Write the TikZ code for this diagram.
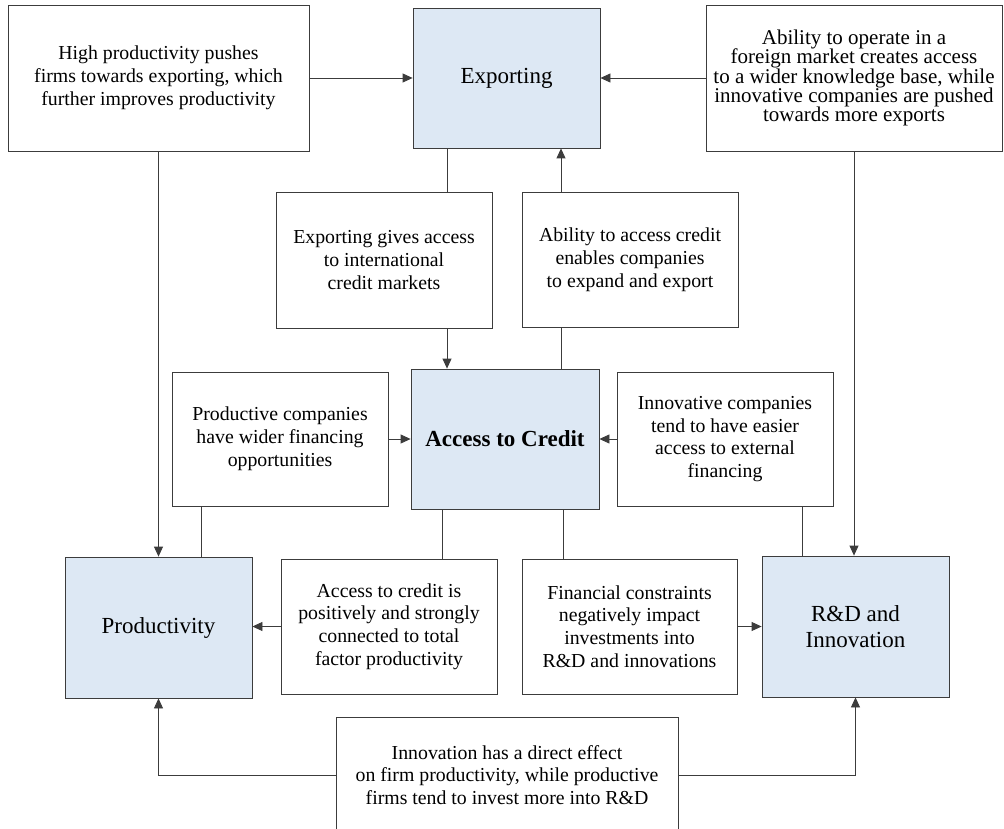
\documentclass[tikz,border=0pt]{standalone}
\usepackage{fontspec}
\setmainfont{Liberation Serif}
\usetikzlibrary{arrows.meta}
\definecolor{keyfill}{RGB}{221,232,244}
\definecolor{edge}{RGB}{60,60,60}
\tikzset{
  textbox/.style={draw=edge, line width=0.8pt, fill=white, inner sep=0pt, align=center,
    font=\fontsize{19.8}{22.8}\selectfont},
  keybox/.style={draw=edge, line width=0.8pt, fill=keyfill, inner sep=0pt, align=center,
    font=\fontsize{23}{25.7}\selectfont},
  link/.style={draw=edge, line width=0.8pt},
  arrowlink/.style={link, -{Triangle[length=10pt,width=9pt]}}
}
\begin{document}
\begin{tikzpicture}[x=1pt, y=-1pt]
\useasboundingbox (0,0) rectangle (1004,829);
\clip (0,0) rectangle (1004,829);

% top row
\node[textbox, minimum width=301pt, minimum height=146pt] (hp) at (158.5,78)
  {High productivity pushes\\firms towards exporting, which\\further improves productivity};
\node[keybox, minimum width=187pt, minimum height=140pt] (exp) at (506.5,78) {Exporting};
\node[textbox, minimum width=296pt, minimum height=146pt, font=\fontsize{21}{19.4}\selectfont] (ab) at (854,78)
  {Ability to operate in a\\foreign market creates access\\to a wider knowledge base, while\\innovative companies are pushed\\towards more exports};

% exporting <-> credit
\node[textbox, minimum width=216pt, minimum height=136pt] (eg) at (384,260)
  {Exporting gives access\\to international\\credit markets};
\node[textbox, minimum width=216pt, minimum height=135pt] (ac) at (630,259.5)
  {Ability to access credit\\enables companies\\to expand and export};

% middle row
\node[textbox, minimum width=216pt, minimum height=134pt] (pc) at (280,439)
  {Productive companies\\have wider financing\\opportunities};
\node[keybox, minimum width=188pt, minimum height=140pt, font=\fontsize{23}{25.7}\selectfont\bfseries] (acc) at (505,439)
  {Access to Credit};
\node[textbox, minimum width=216pt, minimum height=134pt] (ic) at (725,439)
  {Innovative companies\\tend to have easier\\access to external\\financing};

% lower row
\node[keybox, minimum width=187pt, minimum height=141pt] (prod) at (158.5,627.5) {Productivity};
\node[textbox, minimum width=216pt, minimum height=135pt] (atc) at (389,626.5)
  {Access to credit is\\positively and strongly\\connected to total\\factor productivity};
\node[textbox, minimum width=215pt, minimum height=135pt] (fc) at (629.5,626.5)
  {Financial constraints\\negatively impact\\investments into\\R\&D and innovations};
\node[keybox, minimum width=187pt, minimum height=141pt] (rd) at (855.5,626.5) {R\&D and\\Innovation};

% bottom box, running past the lower edge
\node[textbox, minimum width=342pt, minimum height=116pt] (bot) at (507,775)
  {Innovation has a direct effect\\on firm productivity, while productive\\firms tend to invest more into R\&D};

% vertical tracks of the connectors
\coordinate (xa) at (447,0);
\coordinate (xb) at (561,0);
\coordinate (xc) at (201,0);
\coordinate (xd) at (802,0);
\coordinate (xe) at (442,0);
\coordinate (xf) at (563,0);

% connectors
\draw[arrowlink] (hp.east) -- (exp.west);
\draw[arrowlink] (ab.west) -- (exp.east);
\draw[arrowlink] (hp.south) -- (hp.south |- prod.north);
\draw[arrowlink] (ab.south) -- (ab.south |- rd.north);

\draw[link] (exp.south -| xa) -- (eg.north -| xa);
\draw[arrowlink] (eg.south -| xa) -- (acc.north -| xa);
\draw[link] (acc.north -| xb) -- (ac.south -| xb);
\draw[arrowlink] (ac.north -| xb) -- (exp.south -| xb);

\draw[arrowlink] (pc.east) -- (acc.west);
\draw[arrowlink] (ic.west) -- (acc.east);
\draw[link] (pc.south -| xc) -- (prod.north -| xc);
\draw[link] (ic.south -| xd) -- (rd.north -| xd);

\draw[link] (acc.south -| xe) -- (atc.north -| xe);
\draw[link] (acc.south -| xf) -- (fc.north -| xf);
\draw[arrowlink] (atc.west) -- (atc.west -| prod.east);
\draw[arrowlink] (fc.east) -- (fc.east -| rd.west);

\draw[arrowlink] (bot.west) -| (prod.south);
\draw[arrowlink] (bot.east) -| (rd.south);
\end{tikzpicture}
\end{document}
